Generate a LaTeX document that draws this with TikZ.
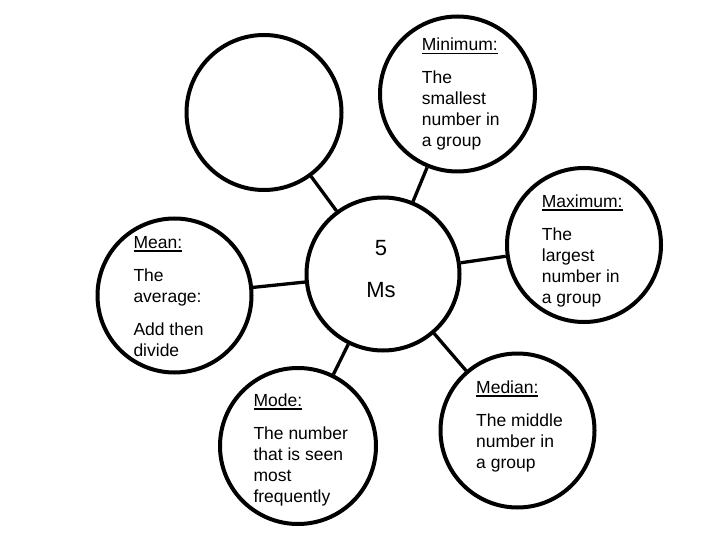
\documentclass[tikz,border=0pt]{standalone}
\usepackage{fontspec}
\setmainfont{Liberation Sans}
\newcommand\myul[1]{{\setbox0\hbox{#1}\rlap{\rule[-3.6pt]{\wd0}{1.5pt}}\box0}}
\newcommand\blk[2]{\vtop{\fontsize{17.5}{21}\selectfont\hbox{\myul{#1}}\vskip12pt #2}}
\newcommand\lnx[1]{\hbox{#1}}
\begin{document}
\begin{tikzpicture}[x=1pt,y=-1pt,
  bub/.style={circle,draw,line width=4pt,inner sep=0pt},
  conn/.style={line width=3.3pt},
  txt/.style={inner sep=0pt,anchor=base west,font=\fontsize{17.5}{21}\selectfont},
  big/.style={inner sep=0pt,anchor=base,font=\fontsize{22}{26}\selectfont}]
\fill[white] (0,0) rectangle (720,540);
\useasboundingbox (0,0) rectangle (720,540);
\node[bub,minimum size=153pt] (c) at (383,274) {};
\node[bub,minimum size=155pt] (tl) at (264,112.5) {};
\node[bub,minimum size=155pt] (mn) at (457.5,94) {};
\node[bub,minimum size=154pt] (mx) at (584,245) {};
\node[bub,minimum size=154pt] (me) at (174.5,295.5) {};
\node[bub,minimum size=156pt] (mo) at (298,446) {};
\node[bub,minimum size=154pt] (md) at (517.5,430.5) {};
\foreach \n in {tl,mn,mx,me,mo,md} \draw[conn] (c) -- (\n);
\node[txt] (mnt) at (421.7,50.7) {\blk{Minimum:}{\lnx{The}\lnx{smallest}\lnx{number in}\lnx{a group}}};
\node[txt] (mxt) at (541.7,207.3) {\blk{Maximum:}{\lnx{The}\lnx{largest}\lnx{number in}\lnx{a group}}};
\node[txt] (met) at (133.3,248.3) {\blk{Mean:}{\lnx{The}\lnx{average:}\vskip12pt\lnx{Add then}\lnx{divide}}};
\node[txt] (mot) at (253.3,406) {\blk{Mode:}{\lnx{The number}\lnx{that is seen}\lnx{most}\lnx{frequently}}};
\node[txt] (mdt) at (476,393.3) {\blk{Median:}{\lnx{The middle}\lnx{number in}\lnx{a group}}};
\node[big] (five) at (381,255) {5};
\node[big] (ms) at (381,297.7) {Ms};
\end{tikzpicture}
\end{document}
